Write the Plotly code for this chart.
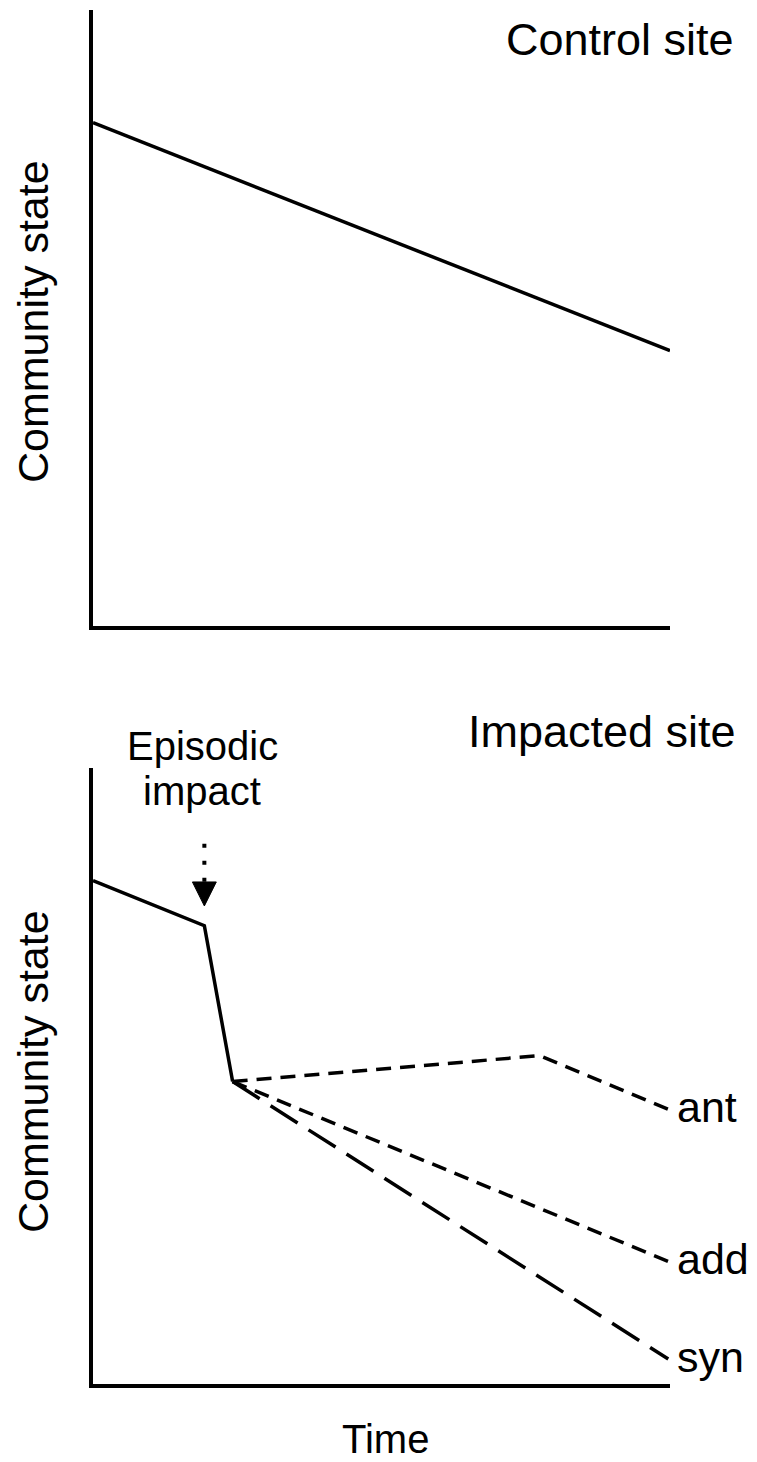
import plotly.graph_objects as go

W, H = 757, 1462

# ---- data (arbitrary units: time 0-100, community state 0-100) ----
time_control = [0, 100]
state_control = [81.7, 44.7]

time_impact = [0, 19.3, 24.2]
state_impact = [81.7, 74.4, 49.1]

time_ant = [24.2, 77.4, 99.7]
state_ant = [49.1, 53.3, 44.6]

time_add = [24.2, 99.7]
state_add = [49.1, 19.9]

time_syn = [24.2, 99.7]
state_syn = [49.1, 4.05]

impact_time = 19.3
arrow_top = 87.7
arrow_tip = 77.6

response_labels = ["ant", "add", "syn"]

FONT = "Liberation Sans, Arial, sans-serif"
LW = 3.5

def px_x(p):
    return p / W

def px_y(p):
    return 1 - p / H

fig = go.Figure()

line = dict(color="black", width=LW)
fig.add_trace(go.Scatter(x=time_control, y=state_control, mode="lines",
                         line=line, xaxis="x", yaxis="y", hoverinfo="skip"))
fig.add_trace(go.Scatter(x=time_impact, y=state_impact, mode="lines",
                         line=line, xaxis="x2", yaxis="y2", hoverinfo="skip"))
fig.add_trace(go.Scatter(x=time_ant, y=state_ant, mode="lines",
                         line=dict(color="black", width=LW, dash="15px,9px"),
                         xaxis="x2", yaxis="y2", hoverinfo="skip"))
fig.add_trace(go.Scatter(x=time_add, y=state_add, mode="lines",
                         line=dict(color="black", width=LW, dash="15px,9px"),
                         xaxis="x2", yaxis="y2", hoverinfo="skip"))
fig.add_trace(go.Scatter(x=time_syn, y=state_syn, mode="lines",
                         line=dict(color="black", width=LW, dash="32px,13px"),
                         xaxis="x2", yaxis="y2", hoverinfo="skip"))

# dotted arrow shaft
head_h = 3.9   # arrow head height in state units
head_w = 2.07  # half width in time units
fig.add_trace(go.Scatter(x=[impact_time, impact_time], y=[arrow_top, arrow_tip + head_h],
                         mode="lines", line=dict(color="black", width=4, dash="4px,13px"),
                         xaxis="x2", yaxis="y2", hoverinfo="skip"))
# arrow head (filled triangle derived from tip position)
fig.add_trace(go.Scatter(x=[impact_time - head_w, impact_time + head_w, impact_time, impact_time - head_w],
                         y=[arrow_tip + head_h, arrow_tip + head_h, arrow_tip, arrow_tip + head_h],
                         mode="lines", fill="toself", fillcolor="black",
                         line=dict(color="black", width=1),
                         xaxis="x2", yaxis="y2", hoverinfo="skip"))

xdom = [px_x(93), px_x(670)]
ax_common = dict(showline=True, linecolor="black", linewidth=4, showgrid=False,
                 zeroline=False, showticklabels=False, ticks="", range=[0, 100],
                 fixedrange=True)

fig.update_layout(
    width=W, height=H, margin=dict(l=0, r=0, t=0, b=0),
    paper_bgcolor="white", plot_bgcolor="white", showlegend=False,
    xaxis=dict(domain=xdom, anchor="y", **ax_common),
    yaxis=dict(domain=[px_y(626), px_y(10)], anchor="x", **ax_common),
    xaxis2=dict(domain=xdom, anchor="y2", **ax_common),
    yaxis2=dict(domain=[px_y(1384), px_y(768)], anchor="x2", **ax_common),
)

def f(size):
    return dict(family=FONT, size=size, color="black")

ann = []
ann.append(dict(text="Control site", x=px_x(736), y=px_y(39), xref="paper", yref="paper",
                xanchor="right", yanchor="middle", showarrow=False, font=f(45)))
ann.append(dict(text="Impacted site", x=px_x(738), y=px_y(731), xref="paper", yref="paper",
                xanchor="right", yanchor="middle", showarrow=False, font=f(45)))
ann.append(dict(text="Episodic", x=impact_time, xref="x2", y=px_y(746), yref="paper",
                xanchor="center", yanchor="middle", showarrow=False, font=f(40), xshift=-2))
ann.append(dict(text="impact", x=impact_time, xref="x2", y=px_y(791), yref="paper",
                xanchor="center", yanchor="middle", showarrow=False, font=f(40), xshift=-2))
ann.append(dict(text="Time", x=px_x(385), y=px_y(1439), xref="paper", yref="paper",
                xanchor="center", yanchor="middle", showarrow=False, font=f(40)))
for yc in (322, 1072):
    ann.append(dict(text="Community state", x=px_x(33), y=px_y(yc), xref="paper", yref="paper",
                    xanchor="center", yanchor="middle", textangle=-90, showarrow=False, font=f(43)))
for lab, xs, ys in zip(response_labels, [time_ant, time_add, time_syn], [state_ant, state_add, state_syn]):
    ann.append(dict(text=lab, x=xs[-1], y=ys[-1], xref="x2", yref="y2", xanchor="left",
                    yanchor="middle", xshift=7, yshift=2, showarrow=False, font=f(43)))
fig.update_layout(annotations=ann)

fig.write_html("out.html", config={"displayModeBar": False},
               post_script="document.body.style.margin='0px';document.body.style.padding='0px';")
